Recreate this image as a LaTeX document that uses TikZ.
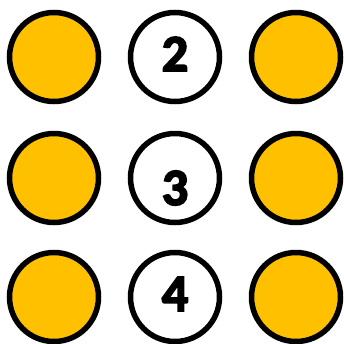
\documentclass[tikz,border=0pt]{standalone}
\usepackage{fontspec}
\setmainfont{Carlito}
\newfontfamily\digitfont{Carlito}[FakeBold=3.5]
\usetikzlibrary{positioning}
\definecolor{dotorange}{RGB}{255, 192, 0}

\begin{document}
\begin{tikzpicture}[x=1pt, y=-1pt,
        filled node/.style={circle, draw=black, fill=dotorange, line width=5.5pt, minimum size=89pt, inner sep=0pt},
        number node/.style={circle, draw=black, fill=white, line width=5.5pt, minimum size=89pt, inner sep=0pt},
        digit/.style={font=\digitfont\bfseries\fontsize{52}{52}\selectfont, inner sep=0pt}]

    \useasboundingbox (0, 0) rectangle (344, 343);

    % Left column
    \node[filled node] (l1) at (54, 57) {};
    \node[filled node] (l2) at (54, 178) {};
    \node[filled node] (l3) at (54, 297) {};

    % Middle column with the numbers
    \node[number node] (m1) at (175, 57) {};
    \node[number node] (m2) at (175, 178) {};
    \node[number node] (m3) at (175, 297) {};

    % Right column
    \node[filled node] (r1) at (296, 57) {};
    \node[filled node] (r2) at (296, 178) {};
    \node[filled node] (r3) at (296, 297) {};

    \node[digit] (n2) at ([yshift=3pt]m1.center) {2};
    \node[digit] (n3) at ([yshift=-10pt]m2.center) {3};
    \node[digit] (n4) at ([yshift=3pt]m3.center) {4};

\end{tikzpicture}
\end{document}
